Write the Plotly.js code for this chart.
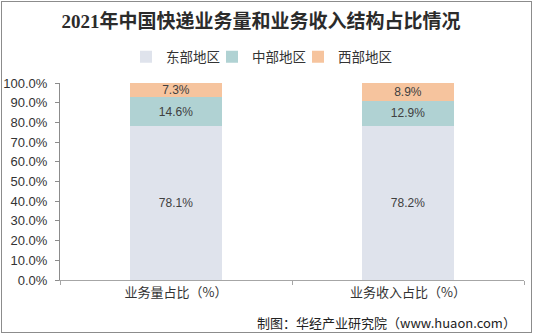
<!DOCTYPE html>
<html><head><meta charset="utf-8">
<script src="https://cdn.plot.ly/plotly-3.0.1.min.js"></script>
<style>
html,body{margin:0;padding:0;background:#fff;}
#wrap{position:relative;width:533px;height:334px;}
#chart{width:533px;height:334px;}
#frame{position:absolute;left:1px;top:1px;width:529px;height:330px;border:1px solid #8c8c8c;pointer-events:none;}
</style></head>
<body><div id="wrap"><div id="chart"></div><div id="frame"></div></div>
<script>
const categories = ['业务量占比（%）', '业务收入占比（%）'];
const seriesNames = ['东部地区', '中部地区', '西部地区'];
const east = [0.781, 0.782];
const central = [0.146, 0.129];
const west = [0.073, 0.089];
const colors = ['#DFE3EC', '#B0D2D3', '#F6C49E'];
const values = [east, central, west];
const legendIds = ['legend', 'legend2', 'legend3'];

const traces = values.map((v, i) => ({
  type: 'bar', x: categories, y: v, name: seriesNames[i], legend: legendIds[i],
  marker: {color: colors[i]}, width: 0.4,
  text: v.map(d => (d * 100).toFixed(1) + '%'),
  textposition: 'inside', insidetextanchor: 'middle', constraintext: 'none',
  textfont: {family: 'Liberation Sans, Arial, sans-serif', size: 12, color: '#404040'},
  hoverinfo: 'skip'
}));

function mkLegend(leftPx) {
  return {orientation: 'h', x: (leftPx - 60) / 464, xanchor: 'left', xref: 'paper',
    y: 1 + (83 - 57) / 197, yanchor: 'middle', itemwidth: 30, bgcolor: 'rgba(0,0,0,0)',
    font: {family: 'Noto Sans CJK SC, sans-serif', size: 13.5, color: '#333'}, itemclick: false};
}

const layout = {
  width: 533, height: 334,
  margin: {l: 60, r: 9, t: 83, b: 54},
  barmode: 'stack',
  paper_bgcolor: '#fff', plot_bgcolor: '#fff',
  font: {family: 'Liberation Sans, Noto Sans CJK SC, sans-serif', color: '#333'},
  title: {text: '<b>2021年中国快递业务量和业务收入结构占比情况</b>',
    font: {family: 'Liberation Serif, Noto Sans CJK SC, serif', size: 19, color: '#2b2b2b'},
    x: (261-60)/464, xanchor: 'center', y: 1 - 21/334, yanchor: 'middle', xref: 'paper'},
  showlegend: true,
  legend: mkLegend(126), legend2: mkLegend(212), legend3: mkLegend(298),
  xaxis: {showline: true, linecolor: '#a6a6a6', linewidth: 1, ticks: 'outside', tickson: 'boundaries',
    ticklen: 4, tickcolor: '#a6a6a6', showgrid: false,
    tickfont: {family: 'Noto Sans CJK SC, sans-serif', size: 13, color: '#333'}, fixedrange: true},
  yaxis: {range: [0, 1], dtick: 0.1, tickformat: '.1%', showline: true, linecolor: '#8c8c8c', linewidth: 1,
    ticks: 'outside', ticklen: 4, tickcolor: '#8c8c8c', showgrid: false, zeroline: false, ticklabelstandoff: 5,
    tickfont: {family: 'Liberation Sans, Arial, sans-serif', size: 13, color: '#333'}, fixedrange: true},
  annotations: [{text: '制图：华经产业研究院（www.huaon.com）', xref: 'paper', yref: 'paper',
    x: (518-60)/464, xanchor: 'right', y: (280-322)/197, yanchor: 'middle', showarrow: false,
    font: {family: 'Noto Sans CJK SC, sans-serif', size: 13, color: '#222'}}]
};
Plotly.newPlot('chart', traces, layout, {displayModeBar: false, staticPlot: true});
</script></body></html>
